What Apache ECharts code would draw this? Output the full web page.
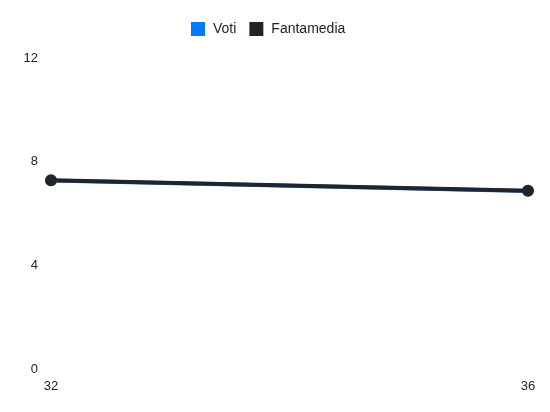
<!DOCTYPE html>
<html>
<head>
<meta charset="utf-8">
<script src="https://cdn.jsdelivr.net/npm/echarts@6/dist/echarts.min.js"></script>
<style>
  html, body { margin: 0; padding: 0; background: #fff; }
  #chart { width: 550px; height: 412px; }
</style>
</head>
<body>
<div id="chart"></div>
<script>
var giornate = ['32', '36'];
var voti = [7.27, 6.87];
var fantamedia = [7.28, 6.88];
var yTicks = [0, 4, 8, 12];

var myChart = echarts.init(document.getElementById('chart'));

option = {
    animation: false,
    textStyle: { fontFamily: 'Liberation Sans, Arial, sans-serif' },
    legend: {
        top: 17,
        left: 186,
        itemWidth: 14,
        itemHeight: 14,
        itemGap: 13,
        icon: 'rect',
        textStyle: { fontSize: 14, color: '#222', padding: [0, 0, 0, 3] },
        data: ['Voti', 'Fantamedia']
    },
    grid: { left: 51, right: 22, top: 58, bottom: 43, containLabel: false },
    xAxis: {
        type: 'category',
        boundaryGap: false,
        data: giornate,
        axisLine: { show: false },
        axisTick: { show: false },
        splitLine: { show: false },
        axisLabel: { color: '#222', fontSize: 13, margin: 11 }
    },
    yAxis: {
        type: 'value',
        min: yTicks[0],
        max: yTicks[yTicks.length - 1],
        interval: 4,
        axisLine: { show: false },
        axisTick: { show: false },
        splitLine: { show: false },
        axisLabel: { color: '#222', fontSize: 13, margin: 13 }
    },
    series: [
        {
            name: 'Voti',
            type: 'line',
            data: voti,
            symbol: 'circle',
            symbolSize: 11,
            itemStyle: { color: '#007bff' },
            lineStyle: { width: 4, color: '#007bff' }
        },
        {
            name: 'Fantamedia',
            type: 'line',
            data: fantamedia,
            symbol: 'circle',
            symbolSize: 12,
            itemStyle: { color: '#212529' },
            lineStyle: { width: 4, color: '#212529' }
        }
    ]
};

myChart.setOption(option);
</script>
</body>
</html>
